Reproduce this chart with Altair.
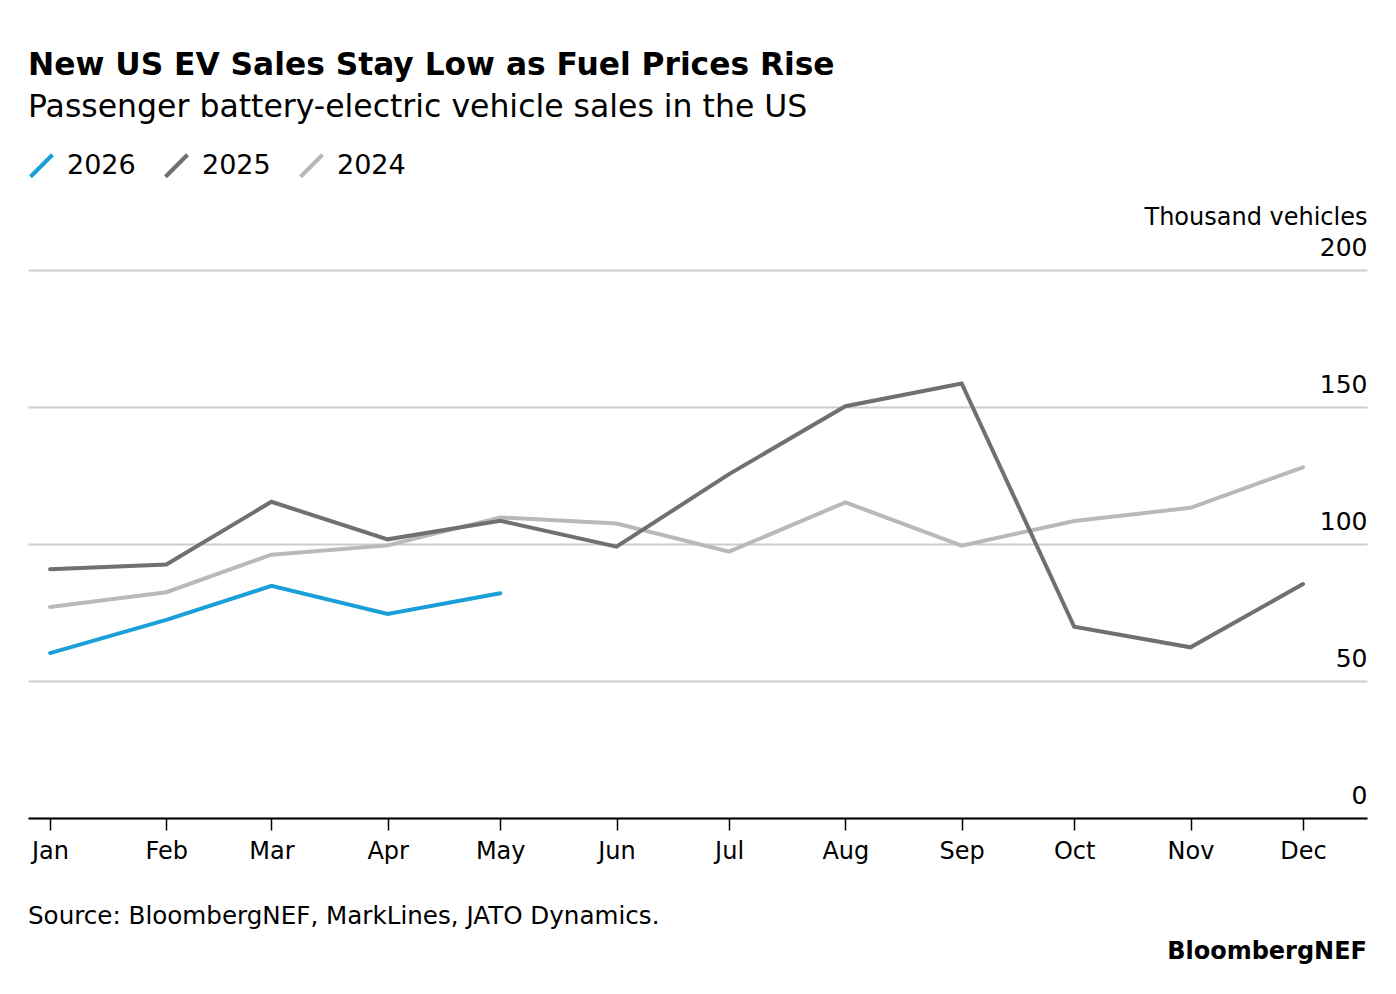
import altair as alt
import pandas as pd

FONT = "DejaVu Sans"

months = ["Jan", "Feb", "Mar", "Apr", "May", "Jun", "Jul", "Aug", "Sep", "Oct", "Nov", "Dec"]
sales_2026 = [60.2, 72.3, 84.7, 74.5, 82.0]
sales_2025 = [90.8, 92.5, 115.4, 101.7, 108.5, 99.0, 125.5, 150.3, 158.6, 69.8, 62.3, 85.4]
sales_2024 = [77.0, 82.4, 96.1, 99.5, 109.7, 107.5, 97.2, 115.2, 99.4, 108.4, 113.2, 128.0]
years = ["2026", "2025", "2024"]
colors = ["#1a9fd9", "#707070", "#b9b9b9"]
y_ticks = [0, 50, 100, 150, 200]

title_text = "New US EV Sales Stay Low as Fuel Prices Rise"
subtitle_text = "Passenger battery-electric vehicle sales in the US"
y_title = "Thousand vehicles"
source_text = "Source: BloombergNEF, MarkLines, JATO Dynamics."
brand_text = "BloombergNEF"

rows = []
for year, vals in [("2024", sales_2024), ("2025", sales_2025), ("2026", sales_2026)]:
    for i, v in enumerate(vals):
        rows.append({"year": year, "month": months[i],
                     "date": f"2025-{i + 1:02d}-01T00:00:00", "value": v})
df = pd.DataFrame(rows)

W, H = 1339, 548

x_values = [alt.DateTime(year=2025, month=m, date=1) for m in range(1, 13)]

lines = alt.Chart(df).mark_line(strokeWidth=4, strokeCap="round", strokeJoin="miter").encode(
    x=alt.X(
        "date:T",
        scale=alt.Scale(domain=[alt.DateTime(year=2024, month=12, date=26, hours=3),
                                alt.DateTime(year=2025, month=12, date=18, hours=1)]),
        axis=alt.Axis(values=x_values, format="%b", title=None, grid=False,
                      domainColor="black", domainWidth=2, tickColor="black",
                      tickWidth=1.5, tickSize=12, labelFontSize=24, labelPadding=9,
                      labelColor="black", labelFont=FONT, labelFlush=False),
    ),
    y=alt.Y(
        "value:Q",
        scale=alt.Scale(domain=[0, 200], nice=False),
        axis=alt.Axis(orient="right", values=y_ticks, title=y_title, grid=True,
                      gridColor="#cccccc", gridWidth=2, domain=False, ticks=False,
                      tickSize=0, labelPadding=0, labelAlign="right",
                      labelBaseline="alphabetic", labelOffset=-15, labelFontSize=25,
                      labelColor="black", labelFont=FONT,
                      titleAngle=0, titleAlign="right", titleBaseline="alphabetic",
                      titleX=0, titleY=-46, titleFontSize=24, titleFontWeight="normal",
                      titleColor="black", titleFont=FONT),
    ),
    color=alt.Color(
        "year:N",
        scale=alt.Scale(domain=years, range=colors),
        legend=alt.Legend(title=None, orient="none", legendX=0, legendY=-118,
                          direction="horizontal", symbolType="M-1,1L1,-1",
                          symbolSize=484, symbolStrokeWidth=4, labelFontSize=27,
                          labelFont=FONT, labelColor="black", labelOffset=12,
                          columnPadding=21),
    ),
)

source = alt.Chart(pd.DataFrame({"t": [source_text]})).mark_text(
    align="left", baseline="alphabetic", fontSize=24.6, font=FONT, color="black"
).encode(text="t:N", x=alt.value(0), y=alt.value(H + 106))

brand = alt.Chart(pd.DataFrame({"t": [brand_text]})).mark_text(
    align="right", baseline="alphabetic", fontSize=24, font=FONT, fontWeight="bold",
    color="black"
).encode(text="t:N", x=alt.value(W), y=alt.value(H + 141))

chart = alt.layer(lines, source, brand).properties(
    width=W,
    height=H,
    background="white",
    title=alt.TitleParams(text=title_text, subtitle=subtitle_text, anchor="start",
                          frame="group", fontSize=31.3, fontWeight="bold", font=FONT,
                          color="black", subtitleFontSize=31.5, subtitleFont=FONT,
                          subtitleColor="black", subtitlePadding=10, offset=29),
    padding={"left": 20, "top": 262, "right": 21, "bottom": 150},
    autosize=alt.AutoSizeParams(type="none"),
).configure_view(strokeWidth=0)

chart.save("out.html", embed_options={"renderer": "svg", "actions": False})
